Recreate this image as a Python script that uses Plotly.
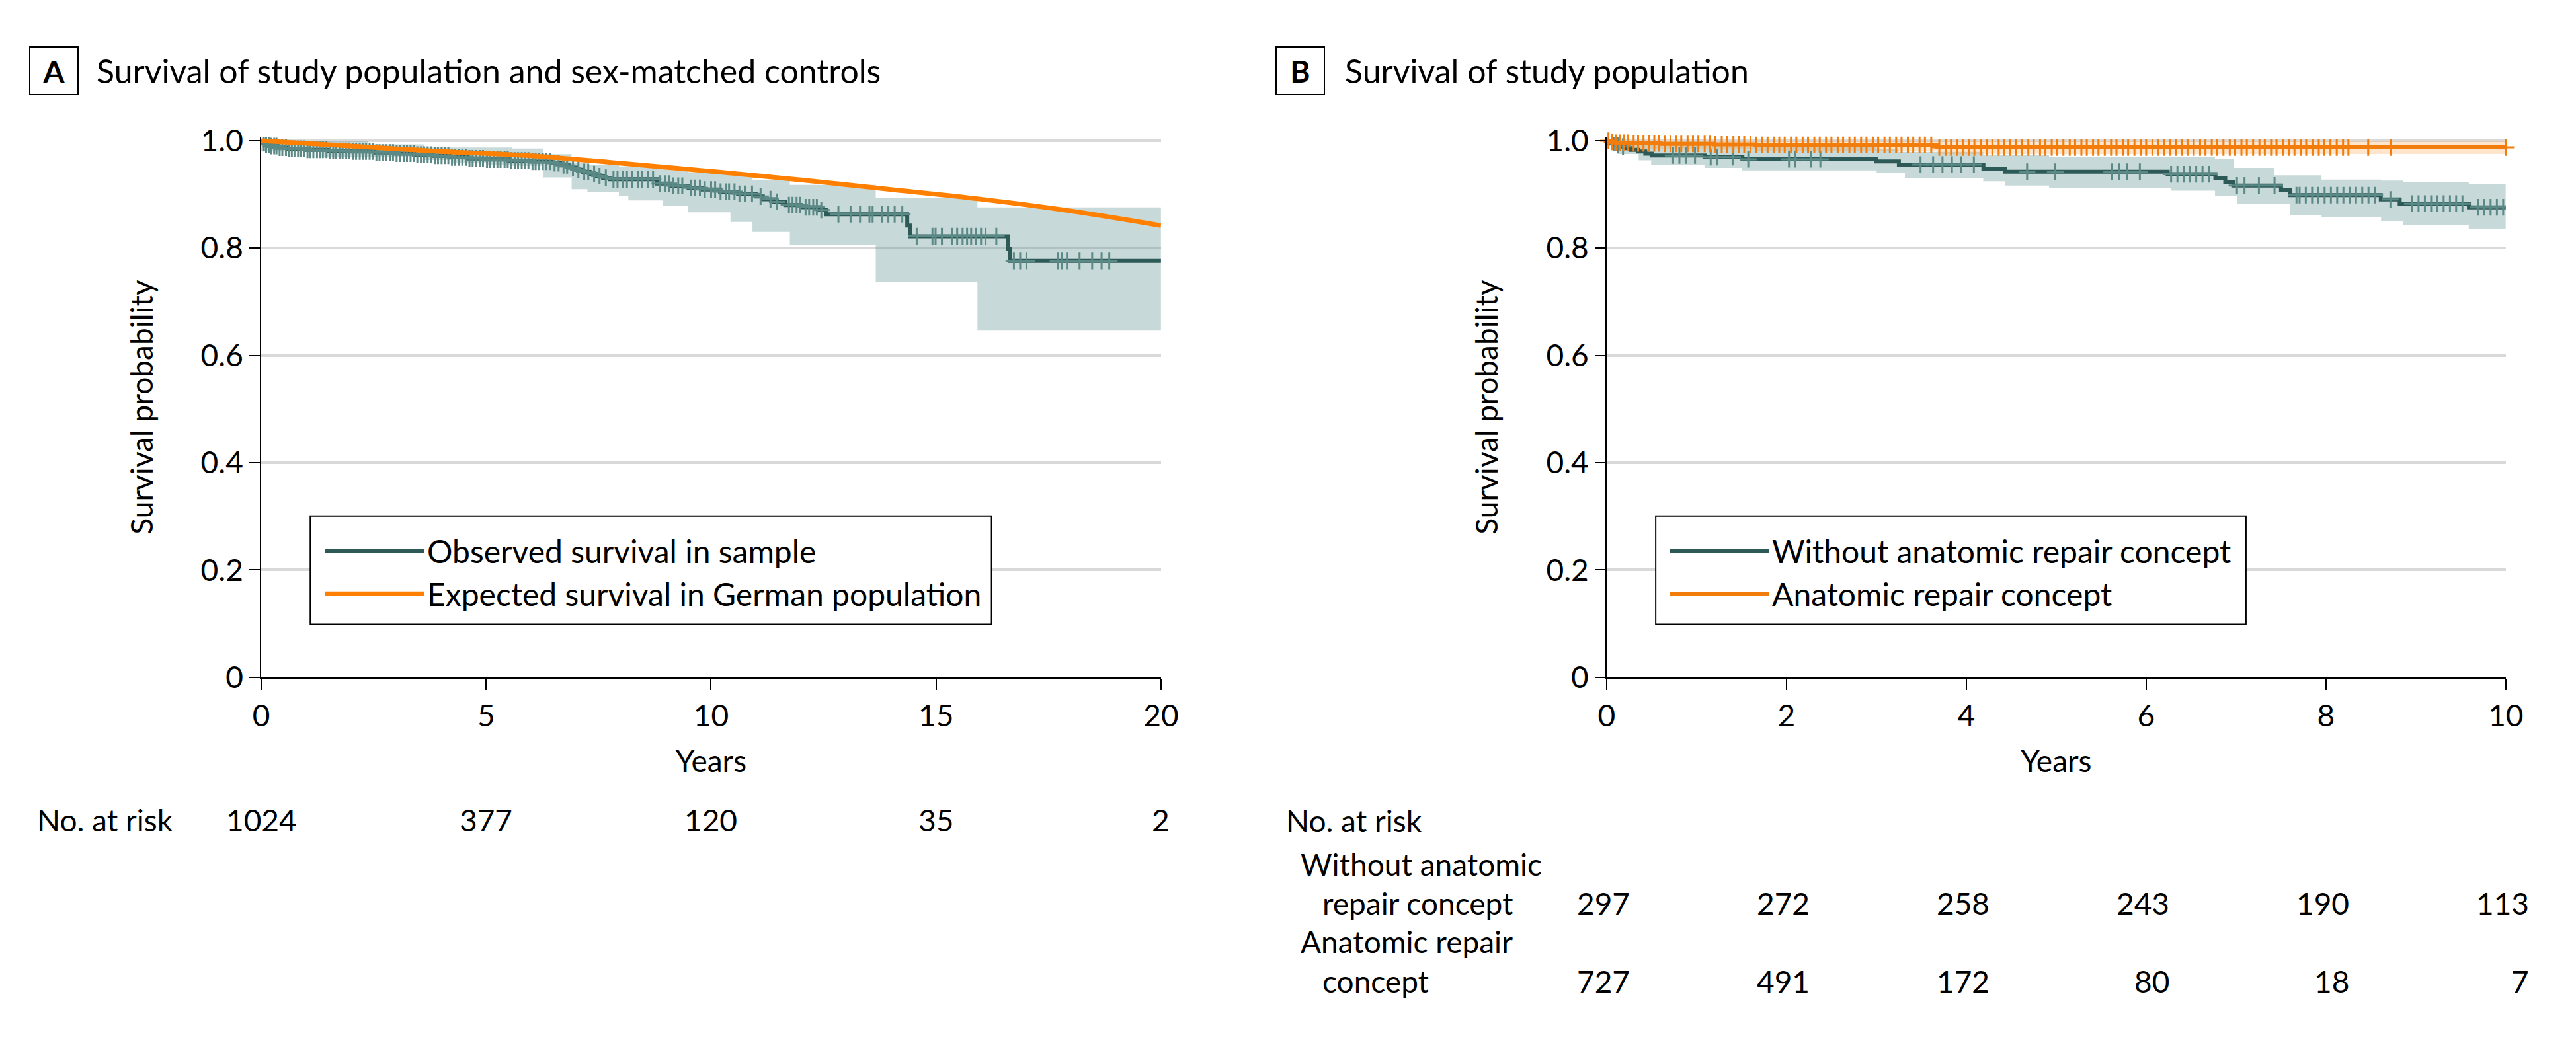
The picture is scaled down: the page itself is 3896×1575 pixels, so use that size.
import numpy as np
import plotly.graph_objects as go

W, H = 3896, 1575
FONT = "Lato"
FS = 46

# ---------------- Panel A data ----------------
obs_t = [0, 0.04, 0.10, 0.18, 0.35, 0.60, 1.00, 1.50, 2.00, 2.50, 3.00, 3.40, 3.80, 4.20, 4.60,
         5.00, 5.50, 6.00, 6.45, 6.65, 6.85, 7.00, 7.15, 7.30, 7.45, 7.60, 7.75, 8.80, 9.10, 9.50,
         9.80, 10.20, 10.60, 11.00, 11.15, 11.40, 11.65, 12.00, 12.40, 12.55, 14.36, 14.42, 16.60,
         16.65, 20.0]
obs_s = [1.0, 0.996, 0.993, 0.990, 0.987, 0.985, 0.983, 0.981, 0.980, 0.978, 0.976, 0.974, 0.972,
         0.969, 0.967, 0.965, 0.963, 0.961, 0.958, 0.954, 0.950, 0.946, 0.942, 0.938, 0.934, 0.931,
         0.928, 0.920, 0.916, 0.912, 0.909, 0.905, 0.901, 0.896, 0.891, 0.886, 0.880, 0.876, 0.871,
         0.863, 0.842, 0.822, 0.798, 0.776, 0.776]

obs_ci_t = [0, 1.39, 2.37, 3.63, 4.25, 5.02, 5.58, 6.27, 6.90, 7.25, 7.95, 8.16, 8.92, 9.48,
            10.43, 10.92, 11.75, 13.66, 15.92, 20.0]
obs_ci_lo = [0.980, 0.9694, 0.9694, 0.9642, 0.9582, 0.9555, 0.9535, 0.9316, 0.9097, 0.9037,
             0.8966, 0.8886, 0.8787, 0.8667, 0.8488, 0.8301, 0.8055, 0.7367, 0.6460, 0.6460]
obs_ci_hi = [1.0, 1.0, 0.9932, 0.9873, 0.9873, 0.9873, 0.9853, 0.9750, 0.9594, 0.9555, 0.9523,
             0.9523, 0.9475, 0.9415, 0.9356, 0.9268, 0.9177, 0.8938, 0.8759, 0.8759]

obs_censor = [0.06, 0.11, 0.17, 0.22, 0.29, 0.34, 0.41, 0.47, 0.55, 0.61, 0.68, 0.74, 0.82, 0.88,
              0.95, 1.03, 1.09, 1.16, 1.24, 1.31, 1.37, 1.45, 1.52, 1.60, 1.66, 1.74, 1.81, 1.89,
              1.95, 2.04, 2.11, 2.19, 2.26, 2.33, 2.41, 2.48, 2.56, 2.63, 2.71, 2.78, 2.86, 2.93,
              3.01, 3.08, 3.17, 3.24, 3.32, 3.39, 3.47, 3.55, 3.62, 3.70, 3.77, 3.86, 3.93, 4.01,
              4.09, 4.16, 4.24, 4.31, 4.40, 4.47, 4.55, 4.63, 4.70, 4.78, 4.86, 4.93, 5.02, 5.09,
              5.17, 5.25, 5.32, 5.41, 5.48, 5.56, 5.64, 5.71, 5.79, 5.87, 5.94, 6.03, 6.10, 6.18,
              6.26, 6.34, 6.42, 6.52, 6.61, 6.72, 6.80, 6.93, 7.05, 7.18, 7.27, 7.40, 7.52, 7.66,
              7.83, 7.92, 8.04, 8.13, 8.25, 8.38, 8.47, 8.60, 8.71, 8.86, 8.98, 9.06, 9.15, 9.27,
              9.36, 9.55, 9.64, 9.75, 9.86, 10.00, 10.09, 10.21, 10.33, 10.40, 10.52, 10.63, 10.75,
              10.91, 11.10, 11.32, 11.47, 11.73, 11.81, 11.90, 11.97, 12.10, 12.18, 12.27, 12.35,
              12.45, 12.83, 13.10, 13.31, 13.52, 13.59, 13.80, 13.94, 14.08, 14.25, 14.57, 14.92,
              14.99, 15.13, 15.36, 15.47, 15.59, 15.69, 15.78, 15.89, 16.00, 16.10, 16.34, 16.73,
              16.87, 17.01, 17.71, 17.80, 17.91, 18.19, 18.47, 18.68, 18.85]

exp_t = [0, 2, 4, 6, 8, 10, 12, 14, 16, 18, 20]
exp_s = [1.0, 0.990, 0.980, 0.972, 0.958, 0.943, 0.927, 0.909, 0.891, 0.869, 0.842]

risk_A_t = [0, 5, 10, 15, 20]
risk_A = [1024, 377, 120, 35, 2]

# ---------------- Panel B data ----------------
wo_t = [0, 0.03, 0.08, 0.14, 0.20, 0.27, 0.35, 0.43, 0.50, 1.09, 1.51, 3.00, 3.25, 4.19, 4.43,
        6.24, 6.77, 6.88, 6.97, 7.50, 7.60, 8.61, 8.82, 9.59, 10.0]
wo_s = [1.0, 0.996, 0.993, 0.989, 0.986, 0.983, 0.980, 0.976, 0.9726, 0.9694, 0.9654, 0.9614,
        0.9555, 0.9483, 0.9423, 0.9376, 0.9296, 0.9236, 0.9165, 0.9085, 0.8986, 0.8906, 0.8826,
        0.8759, 0.8759]
wo_ci_t = [0, 0.112, 0.356, 0.495, 1.088, 1.506, 3.003, 3.247, 3.317, 4.188, 4.432, 4.920, 6.278,
           6.766, 6.975, 7.010, 7.428, 7.602, 7.951, 8.613, 8.857, 9.588, 10.0]
wo_ci_lo = [0.995, 0.9753, 0.9634, 0.9547, 0.9495, 0.9447, 0.9396, 0.9396, 0.9308, 0.9244, 0.9165,
            0.9125, 0.9069, 0.8978, 0.8978, 0.8827, 0.8827, 0.8620, 0.8572, 0.8500, 0.8429,
            0.8349, 0.8349]
wo_ci_hi = [1.0, 0.999, 0.995, 0.992, 0.990, 0.988, 0.985, 0.9793, 0.9793, 0.9734, 0.9734, 0.9694,
            0.9694, 0.9654, 0.9495, 0.9495, 0.9356, 0.9356, 0.9276, 0.9256, 0.9236, 0.9189,
            0.9189]
wo_censor = [0.077, 0.126, 0.182, 0.739, 0.809, 0.879, 0.983, 1.157, 1.227, 1.401, 1.575, 2.028,
             2.098, 2.272, 2.377, 3.491, 3.631, 3.735, 3.840, 3.944, 4.084, 4.676, 4.989, 5.617,
             5.700, 5.791, 5.930, 6.278, 6.348, 6.417, 6.487, 6.557, 6.627, 6.696, 7.010, 7.094,
             7.254, 7.428, 7.672, 7.707, 7.776, 7.846, 7.916, 7.985, 8.055, 8.125, 8.194, 8.264,
             8.334, 8.404, 8.473, 8.543, 8.717, 8.961, 9.030, 9.100, 9.170, 9.240, 9.309, 9.379,
             9.448, 9.518, 9.692, 9.762, 9.831, 9.901, 9.971]

an_t = [0, 0.04, 0.10, 0.25, 0.60, 1.20, 1.65, 3.67, 10.0]
an_s = [1.0, 0.998, 0.996, 0.995, 0.994, 0.993, 0.992, 0.9875, 0.9875]
an_ci_t = [0, 0.30, 1.65, 3.67, 10.0]
an_ci_lo = [0.990, 0.985, 0.981, 0.9753, 0.9753]
an_ci_hi = [1.0, 1.0, 1.0, 0.999, 0.999]
an_censor = [0.02, 0.06, 0.10, 0.15, 0.19, 0.24, 0.30, 0.35, 0.41, 0.47, 0.53, 0.58, 0.65, 0.71,
             0.77, 0.83, 0.90, 0.96, 1.02, 1.09, 1.15, 1.21, 1.28, 1.34, 1.41, 1.47, 1.53, 1.60,
             1.66, 1.73, 1.79, 1.86, 1.92, 1.98, 2.05, 2.11, 2.18, 2.24, 2.31, 2.37, 2.44, 2.50,
             2.57, 2.63, 2.70, 2.76, 2.83, 2.89, 2.96, 3.02, 3.09, 3.15, 3.22, 3.28, 3.35, 3.41,
             3.48, 3.54, 3.61, 3.70, 3.77, 3.83, 3.90, 3.96, 4.03, 4.09, 4.16, 4.23, 4.29, 4.36,
             4.42, 4.49, 4.55, 4.62, 4.69, 4.75, 4.82, 4.88, 4.95, 5.01, 5.08, 5.15, 5.21, 5.28,
             5.34, 5.41, 5.47, 5.54, 5.61, 5.67, 5.74, 5.80, 5.87, 5.94, 6.00, 6.07, 6.13, 6.20,
             6.27, 6.33, 6.40, 6.46, 6.53, 6.60, 6.66, 6.73, 6.79, 6.86, 6.93, 6.99, 7.06, 7.12,
             7.19, 7.26, 7.32, 7.39, 7.45, 7.52, 7.59, 7.65, 7.72, 7.78, 7.85, 7.92, 7.98, 8.05,
             8.12, 8.19, 8.25, 8.47, 8.72, 10.0]

risk_B_t = [0, 2, 4, 6, 8, 10]
risk_B_wo = [297, 272, 258, 243, 190, 113]
risk_B_an = [727, 491, 172, 80, 18, 7]

y_ticks = [0, 0.2, 0.4, 0.6, 0.8, 1.0]
y_ticktext = ["0", "0.2", "0.4", "0.6", "0.8", "1.0"]

# ---------------- styles ----------------
TEAL = "#2d5a56"
TEAL_MK = "#5b8986"
TEAL_BAND = "rgba(95,148,145,0.35)"
ORANGE = "#ff8000"
ORANGE_B = "#f27d0c"
ORANGE_BAND = "rgba(250,150,50,0.25)"


def px(x):
    return x / W


def py(y):
    return 1 - y / H


def step_at(ts, ss, q):
    idx = np.searchsorted(np.array(ts), np.array(q), side="right") - 1
    return np.array(ss)[idx]


fig = go.Figure()


def band(t, lo, hi, color, xa, ya):
    fig.add_trace(go.Scatter(x=t, y=lo, mode="lines", line=dict(width=0, shape="hv"),
                             showlegend=False, hoverinfo="skip", xaxis=xa, yaxis=ya))
    fig.add_trace(go.Scatter(x=t, y=hi, mode="lines", line=dict(width=0, shape="hv"),
                             fill="tonexty", fillcolor=color, showlegend=False,
                             hoverinfo="skip", xaxis=xa, yaxis=ya))


# Panel A
band(obs_ci_t, obs_ci_lo, obs_ci_hi, TEAL_BAND, "x", "y")
fig.add_trace(go.Scatter(x=obs_t, y=obs_s, mode="lines", name="Observed survival in sample",
                         line=dict(color=TEAL, width=6, shape="hv"), legend="legend",
                         legendrank=1, xaxis="x", yaxis="y"))
fig.add_trace(go.Scatter(x=obs_censor, y=step_at(obs_t, obs_s, obs_censor), mode="markers",
                         marker=dict(symbol="cross-thin", size=18,
                                     line=dict(color=TEAL_MK, width=3)),
                         showlegend=False, xaxis="x", yaxis="y"))
fig.add_trace(go.Scatter(x=exp_t, y=exp_s, mode="lines",
                         name="Expected survival in German population",
                         line=dict(color=ORANGE, width=7, shape="spline"), legend="legend",
                         legendrank=2, xaxis="x", yaxis="y"))

# Panel B
band(wo_ci_t, wo_ci_lo, wo_ci_hi, TEAL_BAND, "x2", "y2")
band(an_ci_t, an_ci_lo, an_ci_hi, ORANGE_BAND, "x2", "y2")
fig.add_trace(go.Scatter(x=wo_t, y=wo_s, mode="lines", name="Without anatomic repair concept",
                         line=dict(color=TEAL, width=6, shape="hv"), legend="legend2",
                         legendrank=1, xaxis="x2", yaxis="y2"))
fig.add_trace(go.Scatter(x=wo_censor, y=step_at(wo_t, wo_s, wo_censor), mode="markers",
                         marker=dict(symbol="cross-thin", size=18,
                                     line=dict(color=TEAL_MK, width=3)),
                         showlegend=False, xaxis="x2", yaxis="y2"))
fig.add_trace(go.Scatter(x=an_t, y=an_s, mode="lines", name="Anatomic repair concept",
                         line=dict(color=ORANGE_B, width=6, shape="hv"), legend="legend2",
                         legendrank=2, xaxis="x2", yaxis="y2"))
fig.add_trace(go.Scatter(x=an_censor, y=step_at(an_t, an_s, an_censor), mode="markers",
                         marker=dict(symbol="cross-thin", size=18,
                                     line=dict(color=ORANGE_B, width=3)),
                         showlegend=False, cliponaxis=False, xaxis="x2", yaxis="y2"))

ydom = [py(1034), py(190)]
yrange = [0, (1034 - 190) / 838]

common_x = dict(showline=True, linecolor="black", linewidth=3, ticks="outside", ticklen=16,
                tickwidth=2, tickcolor="black", showgrid=False, zeroline=False,
                tickfont=dict(family=FONT, size=FS, color="black"),
                title=dict(text="Years", font=dict(family=FONT, size=FS, color="black"),
                           standoff=28))
common_y = dict(showline=True, linecolor="black", linewidth=2, ticks="outside", ticklen=16,
                tickwidth=2, tickcolor="black", showgrid=True, gridcolor="#d9d9d9",
                gridwidth=4, zeroline=False, domain=ydom, range=yrange,
                tickvals=y_ticks, ticktext=y_ticktext,
                tickfont=dict(family=FONT, size=FS, color="black"),
                title=dict(text="Survival probability",
                           font=dict(family=FONT, size=FS, color="black"), standoff=58))

fig.update_layout(
    width=W, height=H, margin=dict(l=0, r=0, t=0, b=0),
    paper_bgcolor="white", plot_bgcolor="white",
    font=dict(family=FONT, size=FS, color="black"),
    xaxis=dict(domain=[px(386), px(1761)], range=[0, 20], tickvals=risk_A_t, anchor="y",
               **common_x),
    yaxis=dict(anchor="x", **common_y),
    xaxis2=dict(domain=[px(2442), px(3816)], range=[0, 10], tickvals=risk_B_t, anchor="y2",
                **common_x),
    yaxis2=dict(anchor="x2", **common_y),
    legend=dict(x=px(478), y=py(797), xanchor="left", yanchor="top", bgcolor="rgba(0,0,0,0)",
                borderwidth=0, font=dict(family=FONT, size=48, color="black"),
                itemwidth=150, traceorder="normal"),
    legend2=dict(x=px(2533), y=py(797), xanchor="left", yanchor="top", bgcolor="rgba(0,0,0,0)",
                 borderwidth=0, font=dict(family=FONT, size=48, color="black"),
                 itemwidth=150, traceorder="normal"),
    showlegend=True,
)

# legend frames
for (x0, x1) in [(461, 1502), (2517, 3419)]:
    fig.add_shape(type="rect", xref="paper", yref="paper", x0=px(x0), x1=px(x1),
                  y0=py(951), y1=py(782), line=dict(color="black", width=2),
                  fillcolor="white", layer="above")

ann = []
txt = dict(family=FONT, size=FS, color="black")
# panel titles
ann.append(dict(text="<b>A</b>", x=px(31), y=py(87), xref="paper", yref="paper",
                xanchor="left", yanchor="middle", showarrow=False, width=71, height=70,
                bordercolor="black", borderwidth=2, borderpad=0, font=txt))
ann.append(dict(text="Survival of study population and sex-matched controls", x=px(132),
                y=py(87), xref="paper", yref="paper", xanchor="left", yanchor="middle",
                showarrow=False, font=dict(family=FONT, size=50, color="black")))
ann.append(dict(text="<b>B</b>", x=px(1936), y=py(87), xref="paper", yref="paper",
                xanchor="left", yanchor="middle", showarrow=False, width=71, height=70,
                bordercolor="black", borderwidth=2, borderpad=0, font=txt))
ann.append(dict(text="Survival of study population", x=px(2040), y=py(87), xref="paper",
                yref="paper", xanchor="left", yanchor="middle", showarrow=False,
                font=dict(family=FONT, size=50, color="black")))

# number at risk A
ann.append(dict(text="No. at risk", x=px(41), y=py(1257), xref="paper", yref="paper",
                xanchor="left", yanchor="middle", showarrow=False, font=txt))
for t, n in zip(risk_A_t, risk_A):
    ann.append(dict(text=str(n), x=t, y=py(1257), xref="x", yref="paper", xanchor="center",
                    yanchor="middle", showarrow=False, font=txt))

# number at risk B
for label, xx, yy in [("No. at risk", 1950, 1258), ("Without anatomic", 1972, 1326),
                      ("repair concept", 2006, 1387), ("Anatomic repair", 1972, 1447),
                      ("concept", 2006, 1508)]:
    ann.append(dict(text=label, x=px(xx), y=py(yy), xref="paper", yref="paper",
                    xanchor="left", yanchor="middle", showarrow=False, font=txt))
for t, n1, n2 in zip(risk_B_t, risk_B_wo, risk_B_an):
    ann.append(dict(text=str(n1), x=t, y=py(1387), xref="x2", yref="paper", xanchor="right",
                    xshift=37, yanchor="middle", showarrow=False, font=txt))
    ann.append(dict(text=str(n2), x=t, y=py(1508), xref="x2", yref="paper", xanchor="right",
                    xshift=37, yanchor="middle", showarrow=False, font=txt))

fig.update_layout(annotations=ann)

fig.write_html("out.html", config={"displayModeBar": False},
               post_script="document.body.style.margin='0px';document.body.style.overflow='hidden';")
